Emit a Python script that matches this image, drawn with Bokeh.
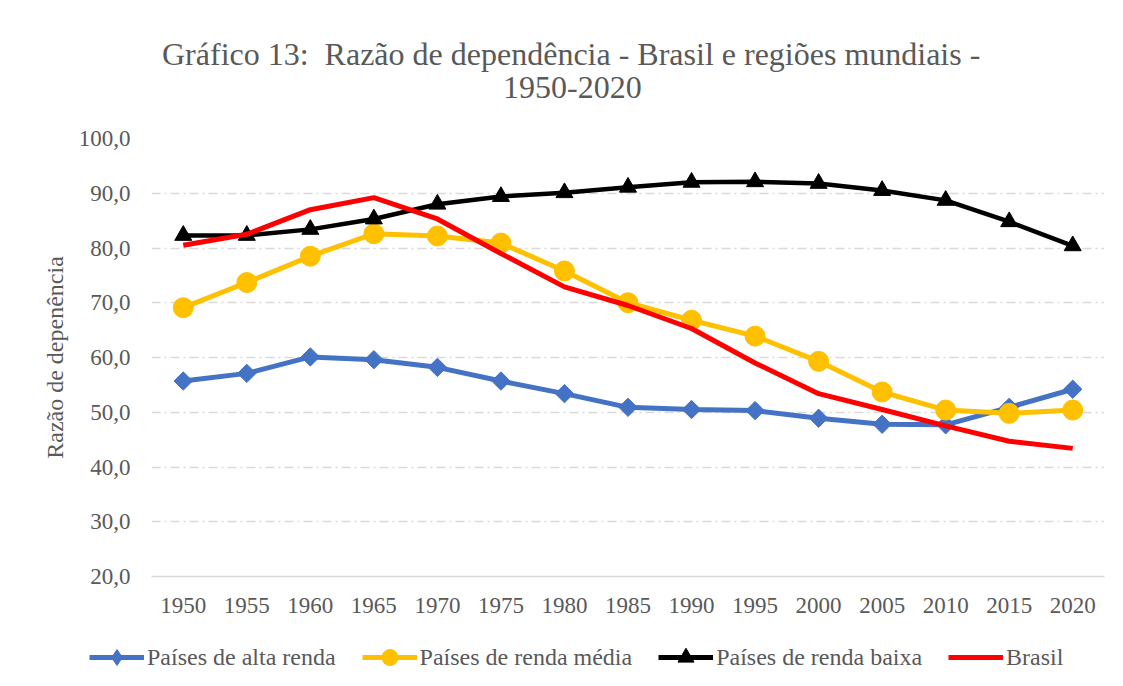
import numpy as np
from bokeh.plotting import figure
from bokeh.models import (FactorRange, Range1d, Legend, LegendItem, Div,
                          CustomJSTickFormatter, FixedTicker)
from bokeh.embed import file_html
from bokeh.resources import INLINE

years = ["1950", "1955", "1960", "1965", "1970", "1975", "1980", "1985",
         "1990", "1995", "2000", "2005", "2010", "2015", "2020"]
alta = [55.7, 57.1, 60.1, 59.6, 58.2, 55.7, 53.4, 50.9, 50.5, 50.3, 48.9, 47.8, 47.7, 50.9, 54.2]
media = [69.1, 73.7, 78.5, 82.6, 82.2, 80.9, 75.8, 70.0, 66.8, 63.9, 59.3, 53.7, 50.4, 49.8, 50.4]
baixa = [82.3, 82.3, 83.4, 85.3, 88.0, 89.4, 90.1, 91.1, 92.0, 92.1, 91.8, 90.5, 88.7, 84.8, 80.4]
brasil = [80.5, 82.5, 87.0, 89.2, 85.3, 79.0, 72.9, 69.5, 65.3, 59.0, 53.4, 50.5, 47.5, 44.7, 43.4]
y_ticks = [20, 30, 40, 50, 60, 70, 80, 90, 100]

series_names = ["Países de alta renda", "Países de renda média",
                "Países de renda baixa", "Brasil"]
series_colors = ["#4472C4", "#FFC000", "#000000", "#FF0000"]
title_line1 = "Gráfico 13:&nbsp; Razão de dependência - Brasil e regiões mundiais -"
title_line2 = "1950-2020"

FONT = "Liberation Serif"
GREY = "#595959"

# ---- title block (real HTML text) ----
title_html = (
    f'<div style="font-family:\'{FONT}\';font-size:32px;color:{GREY};'
    'line-height:32.6px;padding-top:38px;white-space:nowrap;margin:0">'
    f'<div style="padding-left:162px">{title_line1}</div>'
    f'<div style="padding-left:503px">{title_line2}</div></div>'
)
title_div = Div(text=title_html, width=1120, height=100, margin=0)

# ---- main chart ----
p = figure(frame_width=953, frame_height=438, x_range=FactorRange(*years),
           y_range=Range1d(20, 100), output_backend="svg",
           toolbar_location=None, margin=0,
           min_border_left=151, min_border_right=16,
           min_border_top=38, min_border_bottom=48)
p.outline_line_color = None
p.background_fill_color = "white"
p.border_fill_color = "white"

p.xaxis.axis_line_color = "#d9d9d9"
p.xaxis.axis_line_width = 1.3
p.xaxis.major_tick_line_color = None
p.xaxis.minor_tick_line_color = None
p.xaxis.major_label_text_font = FONT
p.xaxis.major_label_text_font_size = "23px"
p.xaxis.major_label_text_color = GREY
p.xaxis.major_label_standoff = 15

p.yaxis.axis_line_color = None
p.yaxis.major_tick_line_color = None
p.yaxis.minor_tick_line_color = None
p.yaxis.ticker = FixedTicker(ticks=y_ticks)
p.yaxis.formatter = CustomJSTickFormatter(code="return tick.toFixed(1).replace('.', ',');")
p.yaxis.major_label_text_font = FONT
p.yaxis.major_label_text_font_size = "23px"
p.yaxis.major_label_text_color = GREY
p.yaxis.major_label_standoff = 15
p.yaxis.axis_label = "Razão de depenência"
p.yaxis.axis_label_text_font = FONT
p.yaxis.axis_label_text_font_size = "24px"
p.yaxis.axis_label_text_font_style = "normal"
p.yaxis.axis_label_text_color = GREY
p.yaxis.axis_label_standoff = 8

p.xgrid.grid_line_color = None
p.ygrid.ticker = FixedTicker(ticks=y_ticks[1:])
p.ygrid.grid_line_color = "#d9d9d9"
p.ygrid.grid_line_width = 1.3
p.ygrid.grid_line_dash = "9 4 2 4"

p.line(years, alta, line_color=series_colors[0], line_width=5)
p.scatter(years, alta, marker="square", angle=np.pi / 4, size=13,
          fill_color=series_colors[0], line_color=series_colors[0])
p.line(years, media, line_color=series_colors[1], line_width=5)
p.scatter(years, media, marker="circle", size=20,
          fill_color=series_colors[1], line_color=series_colors[1])
p.line(years, baixa, line_color=series_colors[2], line_width=4.5)
p.scatter(years, baixa, marker="triangle", size=17,
          fill_color=series_colors[2], line_color=series_colors[2])
p.line(years, brasil, line_color=series_colors[3], line_width=5)

# ---- legend strip (own root so its frame spans the whole width) ----
q = figure(width=1120, height=60, x_range=Range1d(0, 1), y_range=Range1d(0, 1),
           output_backend="svg", toolbar_location=None, margin=0,
           x_axis_type=None, y_axis_type=None, min_border=0)
q.outline_line_color = None
q.xgrid.grid_line_color = None
q.ygrid.grid_line_color = None
q.border_fill_color = "white"
q.background_fill_color = "white"

series_values = [alta, media, baixa, brasil]
markers = ["diamond", "circle", "triangle", None]
items = []
for name, col, mk, vals in zip(series_names, series_colors, markers, series_values):
    # proxy renderers: one real value each, lying outside this strip's range
    rs = [q.line(x=[vals[0], vals[1]], y=[vals[0], vals[1]], line_color=col, line_width=5)]
    if mk is not None:
        rs.append(q.scatter(x=[vals[0]], y=[vals[0]], marker=mk,
                            fill_color=col, line_color=col))
    items.append(LegendItem(label=name, renderers=rs))

legend = Legend(items=items, orientation="horizontal", location=(89, 7),
                label_text_font=FONT, label_text_font_size="24px",
                label_text_color=GREY, glyph_width=55, glyph_height=40,
                label_standoff=3, spacing=26, padding=0, margin=0,
                border_line_alpha=0, background_fill_alpha=0,
                label_height=24)
q.add_layout(legend, "center")

open("out.html", "w").write(file_html([title_div, p, q], INLINE))
